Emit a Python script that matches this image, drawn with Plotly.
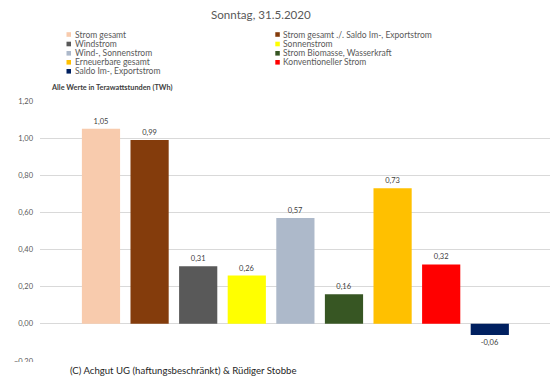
import plotly.graph_objects as go

categories = [
    "Strom gesamt",
    "Strom gesamt ./. Saldo Im-, Exportstrom",
    "Windstrom",
    "Sonnenstrom",
    "Wind-, Sonnenstrom",
    "Strom Biomasse, Wasserkraft",
    "Erneuerbare gesamt",
    "Konventioneller Strom",
    "Saldo Im-, Exportstrom",
]
values = [1.05, 0.99, 0.31, 0.26, 0.57, 0.16, 0.73, 0.32, -0.06]
colors = ["#F8CBAD", "#843C0C", "#595959", "#FFFF00", "#ADB9CA",
          "#375623", "#FFC000", "#FF0000", "#002060"]
labels = [f"{v:.2f}".replace(".", ",") for v in values]

W, H = 550, 382
ML, MR, MT, MB = 40, 0, 101, 21
PW, PH = W - ML - MR, H - MT - MB
FONT = "Lato, 'Open Sans', sans-serif"


def px(x):
    return (x - ML) / PW


def py(y):
    return (H - MB - y) / PH


fig = go.Figure()
fig.add_trace(go.Bar(
    x=categories, y=values, marker_color=colors, marker_line_width=0,
    width=0.786, text=labels, textposition="outside",
    textfont=dict(size=7.5, color="#404040", family=FONT),
    cliponaxis=False, showlegend=False, hoverinfo="skip",
))

shapes = []
annotations = []
# manual two-column legend
col_x = [66.5, 275.3]
row_y = [34.5, 44, 53.3, 62.3, 71.3]
for i, (name, c) in enumerate(zip(categories, colors)):
    cx = col_x[i % 2]
    cy = row_y[i // 2]
    shapes.append(dict(type="rect", xref="paper", yref="paper",
                       x0=px(cx), x1=px(cx + 4.5), y0=py(cy + 2.3), y1=py(cy - 2.3),
                       fillcolor=c, line_width=0, layer="above"))
    annotations.append(dict(text=name, xref="paper", yref="paper",
                            x=px(cx + 6), y=py(cy), xanchor="left", yanchor="middle",
                            showarrow=False,
                            font=dict(size=8.5, color="#595959", family=FONT)))

# white box covering bottom left (copyright textbox)
shapes.append(dict(type="rect", xref="paper", yref="paper",
                   x0=px(0), x1=px(320), y0=py(382), y1=py(362),
                   fillcolor="white", line_width=0, layer="above"))

annotations += [
    dict(text="Sonntag, 31.5.2020", xref="paper", yref="paper",
         x=px(261), y=py(14), xanchor="center", yanchor="middle", showarrow=False,
         font=dict(size=11.6, color="#595959", family=FONT)),
    dict(text="<b>Alle Werte in Terawattstunden (TWh)</b>", xref="paper", yref="paper",
         x=px(49), y=py(88), xanchor="left", yanchor="middle", showarrow=False,
         font=dict(size=7.3, color="#404040", family=FONT)),
    dict(text="(C) Achgut UG (haftungsbeschränkt) &amp; Rüdiger Stobbe", xref="paper", yref="paper",
         x=px(68), y=py(370), xanchor="left", yanchor="middle", showarrow=False,
         font=dict(size=9.6, color="#262626", family=FONT)),
]

fig.update_layout(
    width=W, height=H,
    margin=dict(l=ML, r=MR, t=MT, b=MB, pad=0),
    paper_bgcolor="white", plot_bgcolor="white",
    separators=",.",
    shapes=shapes, annotations=annotations,
    xaxis=dict(range=[-1.255, 9.239], showticklabels=False, showgrid=False,
               zeroline=False, showline=False, ticks=""),
    yaxis=dict(range=[-0.2, 1.2], dtick=0.2, tick0=0, tickformat=".2f",
               showgrid=True, gridcolor="#D9D9D9", gridwidth=1,
               zeroline=False, showline=False, ticks="",
               ticklabelstandoff=6,
               tickfont=dict(size=7.5, color="#595959", family=FONT)),
    font=dict(family=FONT),
)

fig.write_html("out.html", config={"displayModeBar": False},
               post_script="document.body.style.margin='0';document.body.style.overflow='hidden';")
